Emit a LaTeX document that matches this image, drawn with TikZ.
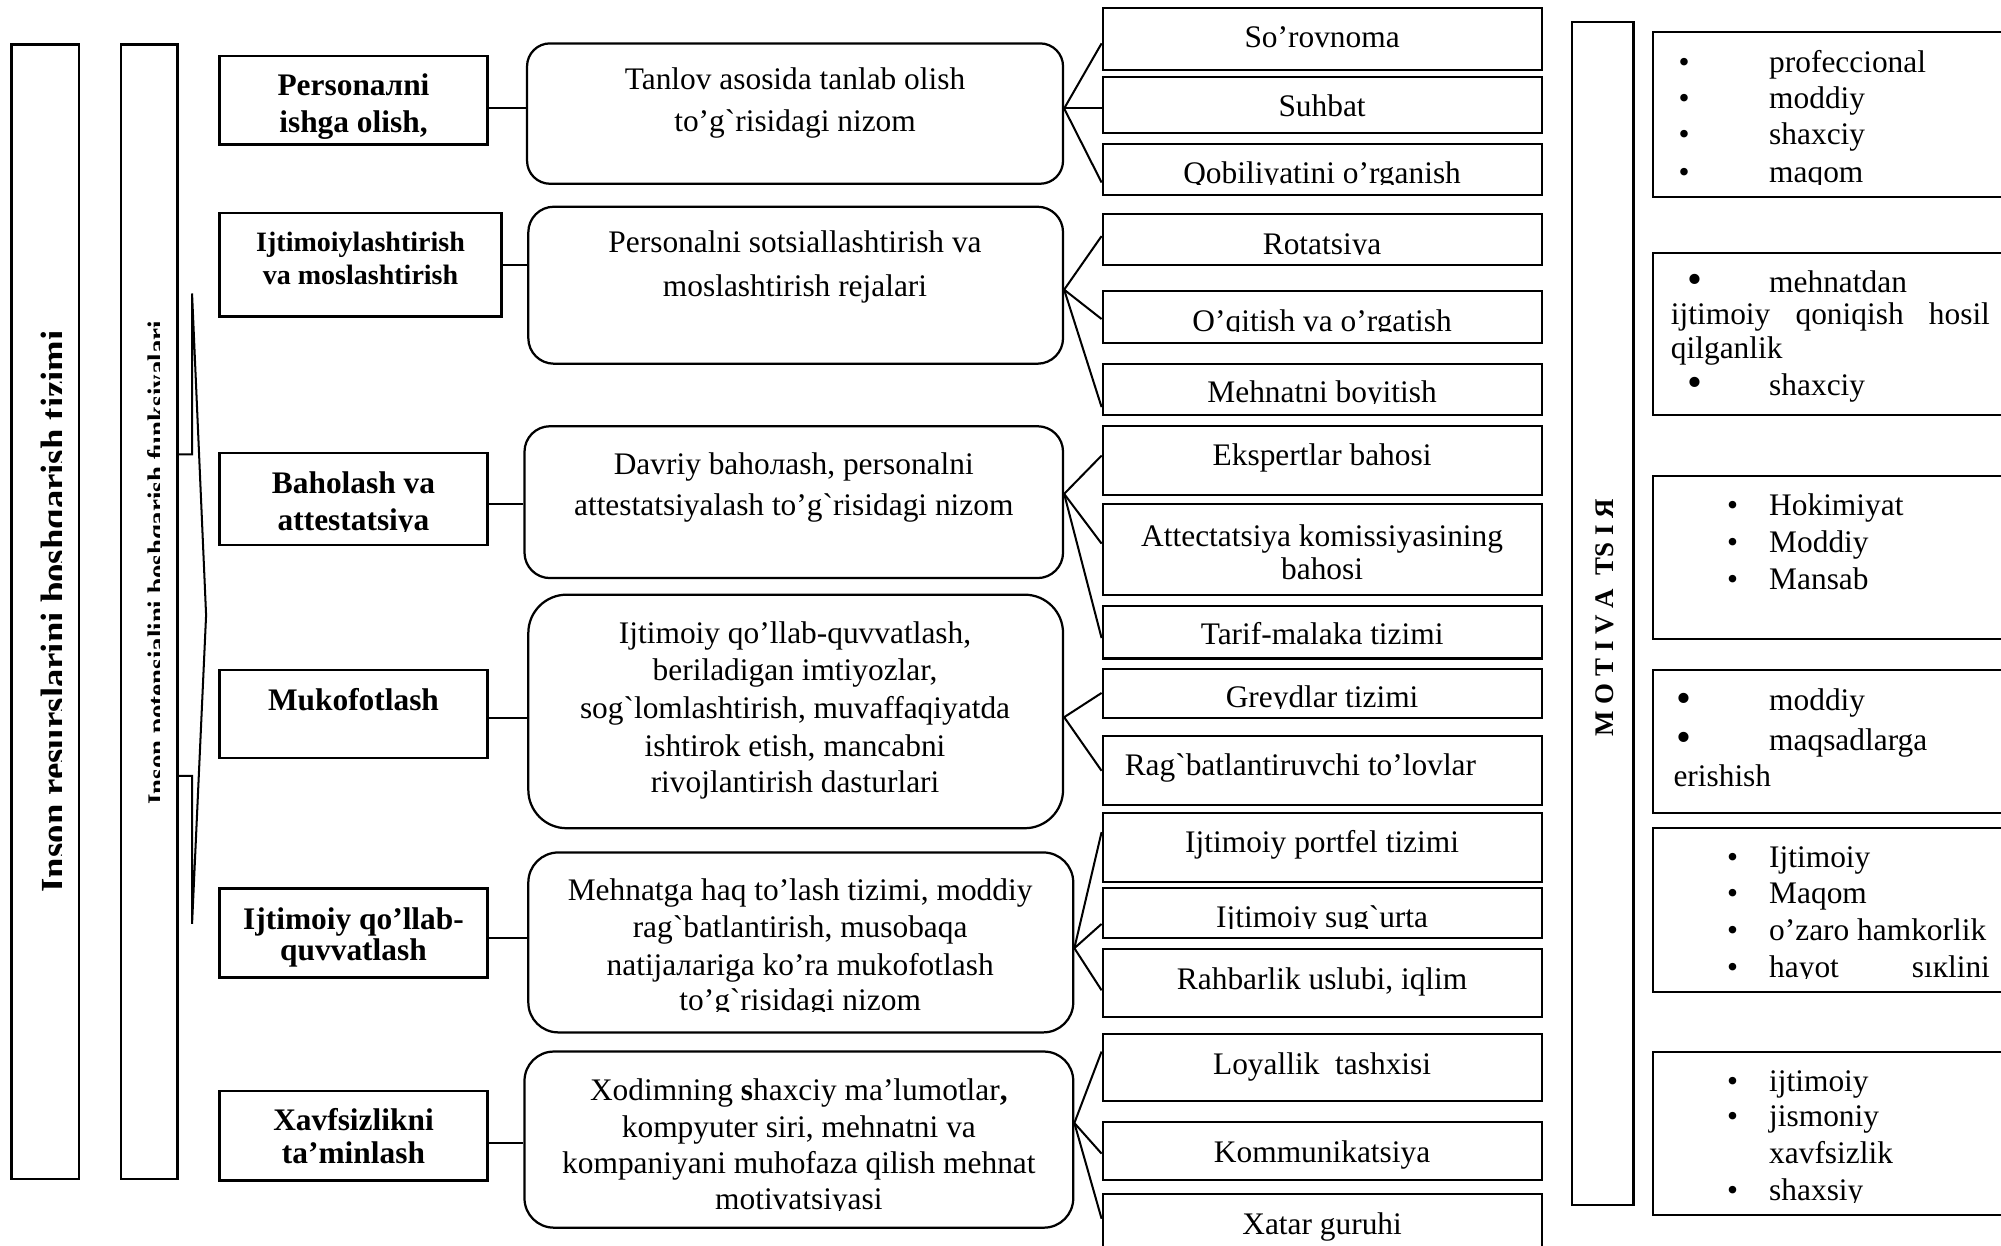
\documentclass[tikz,border=0pt]{standalone}
\usepackage{fontspec}
\setmainfont{Liberation Serif}[Ligatures=TeXOff]
\newcounter{lbl}
% framed box from its corner coordinates
\newcommand\boxat[6]{%
  \node[#6, minimum width={(#4-#2)*0.02cm}, minimum height={(#5-#3)*0.02cm}]
    (#1) at ({(#2+#4)/2},{(#3+#5)/2}) {};}
% one line of text, placed by its baseline
\newcommand\putline[4][]{%
  \stepcounter{lbl}%
  \node[txt,#1] (L\number\value{lbl}) at (#2,#3) {#4};}
% text cut off by the lower edge of its frame
\newcommand\cutat[5]{\begin{scope}\clip (#1,#2) rectangle (#3,#4); #5 \end{scope}}
\newcommand\bul{•}
\newcommand\bigbul{{\fontsize{19}{19}\selectfont •}}
\begin{document}
\begin{tikzpicture}[x=0.02cm, y=-0.02cm,
  frame/.style={draw, line width=0.9pt, inner sep=0pt, rectangle},
  headbox/.style={draw, line width=1.2pt, inner sep=0pt, rectangle},
  roundbox/.style={draw, line width=1pt, inner sep=0pt, rounded corners=#1},
  conn/.style={line width=0.9pt},
  txt/.style={inner sep=0pt, anchor=base, font=\fontsize{14}{16}\selectfont},
  btxt/.style={txt, font=\fontsize{14}{16}\selectfont\bfseries},
  stxt/.style={txt, font=\fontsize{12.5}{14}\selectfont\bfseries},
  lt/.style={txt, anchor=base west}]
\clip (0,0) rectangle (1568,976);
\fill[white] (0,0) rectangle (1568,976);

% ---------- left vertical frames ----------
\boxat{sysbox}{9}{35}{62}{924}{frame, line width=1.1pt}
\boxat{funbox}{95}{35}{139}{924}{frame, line width=1.1pt}
\begin{scope}
  \clip (9,35) rectangle (48,924);
  \node[inner sep=0pt, anchor=base, rotate=90, font=\fontsize{16.4}{18}\selectfont\bfseries]
    (systitle) at (51.8,479) {Inson resurslarini boshqarish tizimi};
\end{scope}
\begin{scope}
  \clip (95,35) rectangle (125,924);
  \node[inner sep=0pt, anchor=base, rotate=90, font=\fontsize{12}{14}\selectfont\bfseries]
    (funtitle) at (130.3,441) {Inson potensialini boshqarish funksiyalari};
\end{scope}
% bracket joining the function frame to the list of functions
\coordinate (brtop) at (150.5,230);
\coordinate (brtip) at (161.5,482);
\coordinate (brbot) at (150.5,724);
\draw[conn] (funbox.east |- 0,356) -- (150.5,356) -- (brtop) -- (brtip) -- (brbot) -- (150.5,608) -- (funbox.east |- 0,608);

% ---------- functions ----------
\boxat{b1}{172}{44}{382}{113}{headbox}
\boxat{b2}{172}{167}{393}{248}{headbox}
\boxat{b3}{172}{355}{382}{427}{headbox}
\boxat{b4}{172}{525}{382}{594}{headbox}
\boxat{b5}{172}{696}{382}{766}{headbox}
\boxat{b6}{172}{855}{382}{925}{headbox}
\putline[btxt]{277}{74.5}{Personaлni}
\cutat{172}{44}{382}{109}{\putline[btxt]{277}{104}{ishga olish,}}
\putline[stxt]{282.5}{197}{Ijtimoiylashtirish}
\putline[stxt]{282.5}{223}{va moslashtirish}
\putline[btxt]{277}{386.5}{Baholash va}
\cutat{172}{355}{382}{416.5}{\putline[btxt]{277}{416}{attestatsiya}}
\putline[btxt]{277}{556.5}{Mukofotlash}
\putline[btxt]{277}{728}{Ijtimoiy qo’llab-}
\putline[btxt]{277}{753}{quvvatlash}
\putline[btxt]{277}{885.5}{Xavfsizlikni}
\putline[btxt]{277}{911.5}{ta’minlash}

% ---------- regulations ----------
\boxat{r1}{413}{34}{833}{144}{roundbox=0.36cm}
\boxat{r2}{414}{162}{833}{285}{roundbox=0.4cm}
\boxat{r3}{411}{334}{833}{453}{roundbox=0.4cm}
\boxat{r4}{414}{466}{833}{649}{roundbox=0.6cm}
\boxat{r5}{414}{668}{841}{809}{roundbox=0.47cm}
\boxat{r6}{411}{824}{841}{962}{roundbox=0.46cm}
\putline{623}{70}{Tanlov asosida tanlab olish}
\putline{623}{103}{to’g`risidagi nizom}
\putline{623}{198}{Personalni sotsiallashtirish va}
\putline{623}{232}{moslashtirish rejalari}
\putline{622}{372}{Davriy bahoлash, personalni}
\putline{622}{404}{attestatsiyalash to’g`risidagi nizom}
\putline{623}{504}{Ijtimoiy qo’llab-quvvatlash,}
\putline{623}{533.5}{beriladigan imtiyozlar,}
\putline{623}{563}{sog`lomlashtirish, muvaffaqiyatda}
\putline{623}{592.5}{ishtirok etish, mancabni}
\putline{623}{621}{rivojlantirish dasturlari}
\putline{627}{706}{Mehnatga haq to’lash tizimi, moddiy}
\putline{627}{735}{rag`batlantirish, musobaqa}
\putline{627}{764.5}{natijaлariga ko’ra mukofotlash}
\cutat{414}{668}{841}{792.5}{\putline{627}{792}{to’g`risidagi nizom}}
\putline{626}{862.5}{Xodimning \textbf{s}haxciy ma’lumotlar\textbf{,}}
\putline{626}{891}{kompyuter siri, mehnatni va}
\putline{626}{919.5}{kompaniyani muhofaza qilish mehnat}
\cutat{411}{824}{841}{948.5}{\putline{626}{948}{motivatsiyasi}}

% ---------- methods ----------
\boxat{c1}{864}{6.5}{1208}{55}{frame}
\boxat{c2}{864}{60}{1208}{104}{frame}
\boxat{c3}{864}{113}{1208}{153}{frame}
\boxat{c4}{864}{168}{1208}{208}{frame}
\boxat{c5}{864}{228}{1208}{269}{frame}
\boxat{c6}{864}{285}{1208}{325}{frame}
\boxat{c7}{864}{334}{1208}{388}{frame}
\boxat{c8}{864}{395}{1208}{466}{frame}
\boxat{c9}{864}{475}{1208}{516}{frame}
\boxat{c10}{864}{524}{1208}{563}{frame}
\boxat{c11}{864}{577}{1208}{631}{frame}
\boxat{c12}{864}{637}{1208}{691}{frame}
\boxat{c13}{864}{696}{1208}{735}{frame}
\boxat{c14}{864}{744}{1208}{797}{frame}
\boxat{c15}{864}{810}{1208}{863}{frame}
\boxat{c16}{864}{879}{1208}{925}{frame}
\boxat{c17}{864}{936}{1208}{1000}{frame}
\putline{1036}{37.5}{So’rovnoma}
\putline{1036}{91}{Suhbat}
\cutat{864}{113}{1208}{144.3}{\putline{1036}{144}{Qobiliyatini o’rganish}}
\cutat{864}{168}{1208}{199.8}{\putline{1036}{199.5}{Rotatsiya}}
\cutat{864}{228}{1208}{259.8}{\putline{1036}{259.5}{O’qitish va o’rgatish}}
\cutat{864}{285}{1208}{315.8}{\putline{1036}{315.5}{Mehnatni boyitish}}
\putline{1036}{365}{Ekspertlar bahosi}
\putline{1036}{428}{Attectatsiya komissiyasining}
\putline{1036}{454}{bahosi}
\putline{1036}{505}{Tarif-malaka tizimi}
\cutat{864}{524}{1208}{554.8}{\putline{1036}{554.5}{Greydlar tizimi}}
\putline{1019}{608}{Rag`batlantiruvchi to’lovlar}
\putline{1036}{668}{Ijtimoiy portfel tizimi}
\cutat{864}{696}{1208}{727.3}{\putline{1036}{727}{Ijtimoiy sug`urta}}
\putline{1036}{775}{Rahbarlik uslubi, iqlim}
\putline{1036}{842}{Loyallik \ tashxisi}
\putline{1036}{911}{Kommunikatsiya}
\putline{1036}{967}{Xatar guruhi}

% ---------- connectors ----------
\draw[conn] (b1.east |- 0,85) -- (r1.west |- 0,85);
\draw[conn] (b2.east |- 0,208) -- (r2.west |- 0,208);
\draw[conn] (b3.east |- 0,395) -- (r3.west |- 0,395);
\draw[conn] (b4.east |- 0,563) -- (r4.west |- 0,563);
\draw[conn] (b5.east |- 0,735) -- (r5.west |- 0,735);
\draw[conn] (b6.east |- 0,896) -- (r6.west |- 0,896);

\draw[conn] (c1.west |- 0,34) -- (r1.east |- 0,85) -- (c3.west |- 0,143);
\draw[conn] (r1.east |- 0,85) -- (c2.west |- 0,85);
\draw[conn] (c4.west |- 0,185) -- (r2.east |- 0,227) -- (c6.west |- 0,319);
\draw[conn] (r2.east |- 0,227) -- (c5.west |- 0,250);
\draw[conn] (c7.west |- 0,357) -- (r3.east |- 0,387) -- (c9.west |- 0,500);
\draw[conn] (r3.east |- 0,387) -- (c8.west |- 0,426);
\draw[conn] (c10.west |- 0,543) -- (r4.east |- 0,562) -- (c11.west |- 0,604);
\draw[conn] (c12.west |- 0,652) -- (r5.east |- 0,743) -- (c14.west |- 0,776);
\draw[conn] (r5.east |- 0,743) -- (c13.west |- 0,724);
\draw[conn] (c15.west |- 0,824) -- (r6.east |- 0,880) -- (c17.west |- 0,955);
\draw[conn] (r6.east |- 0,880) -- (c16.west |- 0,904);

% ---------- motivation column ----------
\boxat{motbox}{1232}{17}{1280}{944}{frame}
\node[inner sep=0pt, anchor=base, rotate=90, font=\fontsize{12}{14}\selectfont\bfseries]
  (mottitle) at (1264,484) {M O T I V A\ \ TS I Я};

\boxat{d1}{1295}{25}{1600}{154}{frame}
\boxat{d2}{1295}{198}{1600}{325}{frame}
\boxat{d3}{1295}{373}{1600}{501}{frame}
\boxat{d4}{1295}{525}{1600}{637}{frame}
\boxat{d5}{1295}{649}{1600}{777}{frame}
\boxat{d6}{1295}{824}{1600}{952}{frame}

\putline[lt]{1315}{57}{\bul}\putline[lt]{1386}{57}{profeccional}
\putline[lt]{1315}{85}{\bul}\putline[lt]{1386}{85}{moddiy}
\putline[lt]{1315}{113}{\bul}\putline[lt]{1386}{113}{shaxciy}
\cutat{1295}{25}{1600}{144.5}{\putline[lt]{1315}{143}{\bul}\putline[lt]{1386}{143}{maqom}}

\putline[lt]{1322}{230}{\bigbul}\putline[lt]{1386}{229}{mehnatdan}
\putline[lt]{1309}{254}{\hbox to 5cm{ijtimoiy\hfill qoniqish\hfill hosil}}
\putline[lt]{1309}{281}{qilganlik}
\putline[lt]{1322}{311}{\bigbul}\putline[lt]{1386}{310}{shaxciy}

\putline[lt]{1353}{404}{\bul}\putline[lt]{1386}{404}{Hokimiyat}
\putline[lt]{1353}{433}{\bul}\putline[lt]{1386}{433}{Moddiy}
\putline[lt]{1353}{462}{\bul}\putline[lt]{1386}{462}{Mansab}

\putline[lt]{1313}{558}{\bigbul}\putline[lt]{1386}{557}{moddiy}
\putline[lt]{1313}{589}{\bigbul}\putline[lt]{1386}{588}{maqsadlarga}
\putline[lt]{1311}{616}{erishish}

\putline[lt]{1353}{680}{\bul}\putline[lt]{1386}{680}{Ijtimoiy}
\putline[lt]{1353}{708}{\bul}\putline[lt]{1386}{708}{Maqom}
\putline[lt]{1353}{737}{\bul}\putline[lt]{1386}{737}{o’zaro hamkorlik}
\cutat{1295}{649}{1600}{767}{\putline[lt]{1353}{766}{\bul}\putline[lt]{1386}{766}{\hbox to 3.46cm{hayot\hfill sıкlini}}}

\putline[lt]{1353}{855}{\bul}\putline[lt]{1386}{855}{ijtimoiy}
\putline[lt]{1353}{883}{\bul}\putline[lt]{1386}{883}{jismoniy}
\putline[lt]{1386}{912}{xavfsizlik}
\cutat{1295}{824}{1600}{942}{\putline[lt]{1353}{941}{\bul}\putline[lt]{1386}{941}{shaxsiy}}
\end{tikzpicture}
\end{document}
